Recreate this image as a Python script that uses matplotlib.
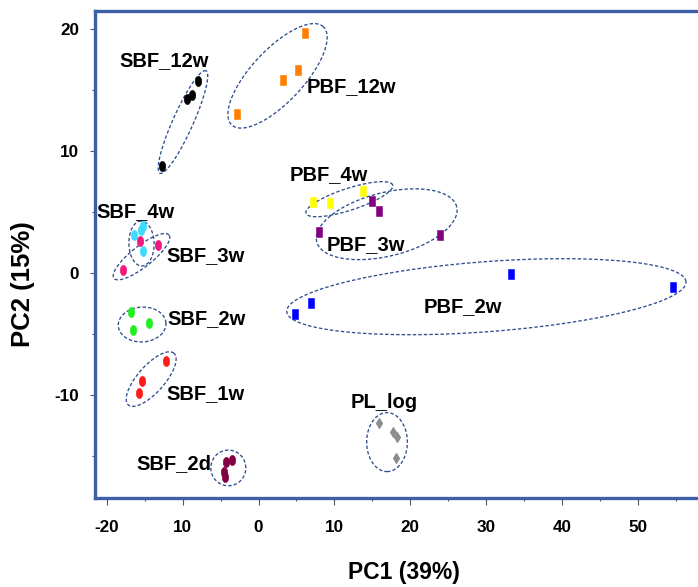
import matplotlib
matplotlib.use('Agg')
import matplotlib.pyplot as plt
import numpy as np
from matplotlib.path import Path
from matplotlib import font_manager

# ---------------- data (PC1, PC2 scores) ----------------
sbf_12w_x = [-12.75, -9.38, -8.72, -7.97]
sbf_12w_y = [8.78, 14.27, 14.60, 15.70]
pbf_12w_x = [6.13, 5.24, 3.27, -2.87]
pbf_12w_y = [19.64, 16.65, 15.80, 13.00]
sbf_4w_x = [-16.40, -15.46, -15.18, -15.26]
sbf_4w_y = [3.09, 3.50, 3.83, 1.78]
sbf_3w_x = [-15.60, -13.28, -17.90]
sbf_3w_y = [2.63, 2.27, 0.22]
sbf_2w_x = [-16.80, -16.58, -14.43]
sbf_2w_y = [-3.20, -4.70, -4.15]
sbf_1w_x = [-12.19, -15.39, -15.78]
sbf_1w_y = [-7.22, -8.86, -9.90]
sbf_2d_x = [-4.28, -3.45, -4.50, -4.45]
sbf_2d_y = [-15.50, -15.37, -16.33, -16.77]
pl_log_x = [15.92, 17.76, 18.29, 18.08]
pl_log_y = [-12.36, -13.09, -13.50, -15.23]
pbf_4w_x = [7.22, 9.42, 13.73]
pbf_4w_y = [5.78, 5.69, 6.73]
pbf_3w_x = [14.99, 15.84, 7.93, 23.95]
pbf_3w_y = [5.90, 5.09, 3.31, 3.09]
pbf_2w_x = [33.20, 54.57, 6.88, 4.81]
pbf_2w_y = [-0.13, -1.15, -2.46, -3.39]

group_names = ['SBF_12w', 'PBF_12w', 'SBF_4w', 'SBF_3w', 'SBF_2w', 'SBF_1w',
               'SBF_2d', 'PL_log', 'PBF_4w', 'PBF_3w', 'PBF_2w']

x_tick_values = [-20, -10, 0, 10, 20, 30, 40, 50]
x_tick_labels = ['-20', '10', '0', '10', '20', '30', '40', '50']
y_tick_values = [-10, 0, 10, 20]
y_tick_labels = ['-10', '0', '10', '20']
x_label = 'PC1 (39%)'
y_label = 'PC2 (15%)'

# ---------------- styling ----------------
names = {f.name for f in font_manager.fontManager.ttflist}
BASE = 'Liberation Sans' if 'Liberation Sans' in names else 'DejaVu Sans'
NARROW = 'Liberation Sans Narrow' if 'Liberation Sans Narrow' in names else None
plt.rcParams['font.family'] = [BASE, 'DejaVu Sans']

FRAME = '#3D5FA8'
DASH = '#2E4E8E'

def ellipse_marker(aspect):
    t = np.linspace(0, 2 * np.pi, 40)
    return Path(np.column_stack([aspect * 0.5 * np.cos(t), 0.5 * np.sin(t)]))

def rect_marker(aspect):
    w = aspect * 0.5
    return Path([(-w, -0.5), (w, -0.5), (w, 0.5), (-w, 0.5), (-w, -0.5)],
                [Path.MOVETO, Path.LINETO, Path.LINETO, Path.LINETO, Path.CLOSEPOLY])

def diamond_marker(aspect):
    w = aspect * 0.5
    return Path([(0, -0.5), (w, 0), (0, 0.5), (-w, 0), (0, -0.5)],
                [Path.MOVETO, Path.LINETO, Path.LINETO, Path.LINETO, Path.CLOSEPOLY])

OVAL = ellipse_marker(0.64)
RECT = rect_marker(0.55)
DIAM = diamond_marker(0.62)

series = [
    (sbf_12w_x, sbf_12w_y, '#000000', OVAL, 7.3),
    (pbf_12w_x, pbf_12w_y, '#FF7F00', RECT, 7.4),
    (sbf_4w_x, sbf_4w_y, '#3DDBFF', OVAL, 7.3),
    (sbf_3w_x, sbf_3w_y, '#F0197D', OVAL, 7.3),
    (sbf_2w_x, sbf_2w_y, '#22EE22', OVAL, 7.3),
    (sbf_1w_x, sbf_1w_y, '#FF1A1A', OVAL, 7.3),
    (sbf_2d_x, sbf_2d_y, '#800040', OVAL, 7.3),
    (pl_log_x, pl_log_y, '#8C8C8C', DIAM, 7.8),
    (pbf_4w_x, pbf_4w_y, '#FFFF00', RECT, 7.4),
    (pbf_3w_x, pbf_3w_y, '#800080', RECT, 7.4),
    (pbf_2w_x, pbf_2w_y, '#0000FF', RECT, 7.4),
]

# group label anchor (left, baseline) in data units
label_x = [-18.34, 6.35, -21.41, -12.19, -12.02, -12.19, -16.14, 12.19, 4.15, 8.99, 21.80]
label_y = [16.92, 14.78, 4.53, 0.92, -4.25, -10.38, -16.14, -11.12, 7.56, 1.86, -3.27]

# dashed ellipses: major-axis end points (data units) and minor/major ratio
ELLIPSES = [
    ((-12.98, 8.16), (-6.92, 16.57), 0.18),
    ((-3.53, 12.12), (8.54, 20.18), 0.39),
    ((-15.35, 0.55), (-15.48, 4.24), 0.56),
    ((-19.04, -0.46), (-11.79, 3.09), 0.30),
    ((-18.47, -4.37), (-12.19, -4.13), 0.73),
    ((-17.15, -10.85), (-11.13, -6.61), 0.39),
    ((-6.28, -16.02), (-1.67, -16.02), 1.02),
    ((16.93, -11.48), (16.93, -16.32), 0.69),
    ((6.26, 4.87), (17.68, 7.19), 0.24),
    ((7.67, 2.54), (26.11, 5.41), 0.44),
    ((3.72, -3.20), (56.32, -0.74), 0.175),
]

# ---------------- figure ----------------
W, H = 698, 587
fig = plt.figure(figsize=(W / 100, H / 100), dpi=100)
ax = fig.add_axes([95 / W, (H - 498.3) / H, (W - 95) / W, (498.3 - 11) / H])
ax.set_xlim(-21.54, 57.9)
ax.set_ylim(-18.51, 21.47)

for sp in ['left', 'top', 'bottom']:
    ax.spines[sp].set_color(FRAME)
    ax.spines[sp].set_linewidth(2.4)
ax.spines['right'].set_visible(False)

ax.set_xticks(x_tick_values)
ax.set_xticklabels(x_tick_labels)
ax.set_xticks([v + 5 for v in x_tick_values], minor=True)
ax.set_yticks(y_tick_values)
ax.set_yticklabels(y_tick_labels)
ax.set_yticks([v - 5 for v in y_tick_values], minor=True)
ax.tick_params(axis='x', which='major', direction='out', length=5, width=0.8,
               color='#555555', pad=10.5, labelsize=12.3)
ax.tick_params(axis='x', which='minor', direction='out', length=2.5, width=0.8, color='#555555')
ax.tick_params(axis='y', which='major', direction='out', length=3.8, width=0.8,
               color='#555555', pad=7.5, labelsize=12.3)
ax.tick_params(axis='y', which='minor', direction='out', length=2.4, width=0.8, color='#555555')
ax.tick_params(top=False, right=False, which='both')
for lab in ax.get_xticklabels() + ax.get_yticklabels():
    lab.set_fontweight('bold')

T = ax.transData
Ti = T.inverted()
tt = np.linspace(0, 2 * np.pi, 300)
for p1, p2, ratio in ELLIPSES:
    a = T.transform(p1)
    b = T.transform(p2)
    c = (a + b) / 2
    u = (b - a) / 2
    v = np.array([-u[1], u[0]]) * ratio
    pts = c + np.outer(np.cos(tt), u) + np.outer(np.sin(tt), v)
    d = Ti.transform(pts)
    ax.plot(d[:, 0], d[:, 1], color=DASH, lw=0.95, ls=(0, (2.6, 1.6)), zorder=2)

for xs, ys, col, mk, ms in series:
    ax.plot(xs, ys, ls='none', marker=mk, markersize=ms, color=col,
            markeredgecolor=col, markeredgewidth=0.4, zorder=3)

for name, lx, ly in zip(group_names, label_x, label_y):
    ax.text(lx, ly, name, fontsize=14.5, fontweight='bold', ha='left',
            va='baseline', color='black', zorder=4, clip_on=False)

if NARROW:
    fig.text(404 / W, 1 - 572 / H, x_label, fontsize=19, fontweight='bold',
             family=[NARROW, BASE], ha='center', va='center')
else:
    fig.text(404 / W, 1 - 572 / H, x_label, fontsize=16.5, fontweight='bold',
             ha='center', va='center')
fig.text(23 / W, 1 - 284 / H, y_label, fontsize=18.5, fontweight='bold',
         rotation=90, ha='center', va='center')

fig.savefig('out.png', dpi=100)
